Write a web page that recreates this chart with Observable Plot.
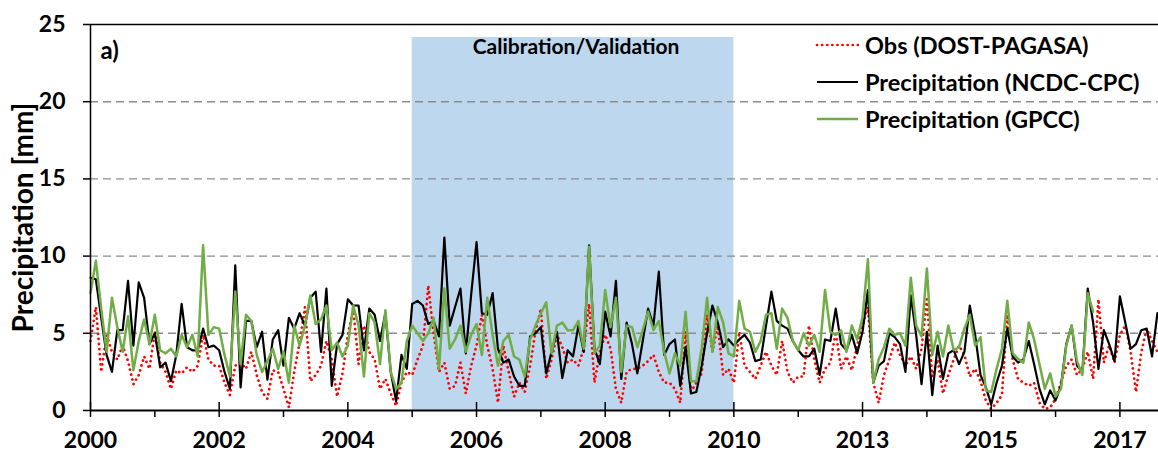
<!DOCTYPE html>
<html>
<head>
<meta charset="utf-8">
<script src="https://cdn.jsdelivr.net/npm/d3@7"></script>
<script src="https://cdn.jsdelivr.net/npm/@observablehq/plot@0.6"></script>
<style>
  body { margin: 0; background: #fff; }
  #chart { position: relative; width: 1158px; height: 454px; font-family: Lato, "Open Sans", sans-serif; }
  #legend { position: absolute; left: 815px; top: 26px; }
  .row { display: flex; align-items: center; height: 37px; font-size: 23.5px; font-weight: bold; color: #000; white-space: nowrap; }
  .row svg { margin-right: 5px; }
</style>
</head>
<body>
<div id="chart"><div id="legend"></div></div>
<script>
// ---- data (monthly precipitation, Jan 2000 onward) ----
const startYear = 2000;

const obsDOST = [
  4.5,6.7,2.5,4.9,3.8,3.3,4.2,3.2,1.7,2.3,
  3.5,2.7,5.1,3.1,2.5,1.4,2.6,2.4,2.8,2.5,
  2.9,4.9,3.3,2.9,2.9,1.8,1.0,2.9,3.1,2.7,
  3.8,2.3,1.2,0.75,2.6,2.5,1.4,0.2,2.5,4.4,
  6.7,1.9,2.3,2.9,4.5,3.3,0.9,2.4,4.9,6.6,
  3.0,5.5,3.8,3.3,1.4,2.05,1.1,0.3,1.8,2.5,
  2.3,3.3,4.2,8.1,5.0,2.5,3.1,1.4,1.6,3.1,
  1.1,2.9,4.2,6.2,4.2,2.7,0.5,4.2,2.5,0.9,
  1.8,1.2,2.9,5.1,6.6,2.05,3.3,4.9,4.1,3.1,
  3.3,2.9,4.0,6.9,1.8,3.8,4.9,4.0,1.4,0.5,
  2.5,2.7,2.7,2.9,3.2,3.6,2.5,1.8,1.8,1.4,
  0.5,5.1,1.2,1.8,2.4,6.2,3.8,5.5,2.3,2.7,
  1.8,5.1,2.9,2.5,2.05,2.9,3.8,2.9,2.3,4.5,
  2.5,1.8,2.2,2.2,5.5,3.3,1.8,2.7,3.1,5.1,
  2.7,3.5,2.6,4.2,5.5,6.7,1.8,0.5,2.3,3.3,
  4.4,3.6,2.9,3.5,2.7,4.0,7.2,2.2,3.3,1.1,
  2.3,3.3,4.2,3.6,2.2,2.7,1.9,0.65,0.1,0.5,
  1.0,6.2,3.3,2.05,1.8,1.6,1.8,0.5,0.1,0.2,
  0.75,1.8,2.9,3.3,2.3,2.7,3.8,2.05,7.2,3.1,
  4.2,3.1,4.9,5.5,3.8,1.2,3.8,5.3,4.5,3.8
];

const ncdcCPC = [
  8.6,8.5,6.0,3.6,2.5,5.2,5.2,8.4,4.2,8.3,
  7.3,4.3,5.0,2.8,3.1,1.9,3.6,6.9,4.1,3.9,
  3.9,5.3,4.1,4.2,3.9,2.5,1.4,9.4,1.5,5.8,
  5.8,4.1,5.1,2.0,4.6,5.2,2.9,6.0,5.3,6.3,
  5.5,7.3,7.7,3.8,7.9,1.6,4.3,4.9,7.2,6.8,
  6.8,3.9,6.6,6.2,4.5,6.3,2.5,0.6,3.6,2.7,
  6.9,7.1,6.8,5.6,5.8,4.8,11.2,5.5,6.7,7.9,
  3.7,7.5,10.9,6.3,6.2,7.6,4.0,3.1,3.3,2.2,
  1.6,1.6,4.8,5.0,5.4,2.4,3.8,5.1,2.1,3.9,
  3.5,5.5,3.8,10.7,4.0,3.0,6.4,4.8,8.4,2.05,
  5.7,4.3,2.4,4.5,6.6,5.5,9.0,3.6,4.3,4.6,
  1.6,4.1,1.1,1.2,2.9,5.0,6.8,5.7,4.1,4.6,
  4.2,4.6,4.9,4.4,3.2,3.3,5.5,7.7,5.8,5.5,
  5.3,4.5,3.9,3.5,3.5,4.0,2.3,4.6,4.5,6.6,
  4.3,3.9,4.9,3.7,5.1,7.8,1.8,2.9,3.2,5.0,
  4.75,4.3,2.5,7.45,4.9,1.7,5.1,1.0,4.2,2.05,
  3.7,3.9,3.0,3.8,6.8,4.9,2.3,1.5,0.4,1.8,
  2.9,5.3,3.5,3.1,3.3,4.5,3.0,1.4,0.4,1.3,
  0.65,1.6,4.3,5.5,2.9,2.5,7.9,5.7,2.7,5.2,
  4.3,3.2,7.4,5.7,4.0,4.3,5.2,5.3,3.5,6.3
];

const gpcc = [
  7.6,9.7,6.6,3.8,7.3,5.4,3.8,6.1,2.6,4.5,
  5.9,4.3,6.2,3.9,3.7,4.0,3.5,4.9,4.1,4.9,
  3.5,10.7,4.9,5.4,5.3,3.6,2.2,7.7,3.0,6.2,
  5.8,3.6,2.5,3.2,4.0,2.7,3.8,1.8,5.5,4.2,
  5.5,7.45,5.6,5.9,6.8,3.9,4.4,3.5,4.2,6.8,
  5.5,2.2,6.3,5.7,3.0,6.5,2.5,1.4,1.8,4.5,
  5.5,5.0,4.5,5.0,6.0,2.7,7.9,4.0,4.6,5.5,
  3.8,4.9,5.6,3.6,7.3,4.9,2.9,4.5,4.9,3.5,
  3.3,2.2,4.6,5.5,6.3,7.0,3.7,5.5,5.7,5.2,
  5.2,5.8,4.0,10.6,3.7,4.2,7.8,5.4,7.3,2.5,
  5.5,5.4,4.1,5.2,6.4,5.2,5.8,3.8,2.4,3.7,
  2.9,6.4,1.9,1.9,4.0,7.3,3.8,6.7,5.7,3.7,
  3.5,7.1,5.3,5.1,3.8,4.5,6.2,6.3,4.0,6.6,
  6.0,4.5,3.9,5.0,4.2,4.9,3.8,7.8,5.1,4.9,
  5.2,3.8,5.5,4.6,6.05,9.8,1.8,3.3,4.1,5.3,
  4.9,5.0,4.2,8.6,5.5,4.8,9.2,3.6,5.1,3.5,
  5.5,3.9,4.1,5.3,6.2,4.2,4.75,1.3,1.2,2.7,
  4.0,7.1,3.7,3.35,3.1,5.7,4.6,3.0,1.4,2.4,
  0.9,1.4,4.2,5.5,3.2,2.3,7.6,6.4
];

const tickYears  = [2000,2001,2002,2003,2004,2005,2006,2007,2008,2009,2010,2011,2012,2013,2014,2015,2016];
const tickLabels = ["2000","","2002","","2004","","2006","","2008","","2010","","2013","","2015","","2017"];
const yTicks = [0, 5, 10, 15, 20, 25];
const calibration = [2005, 2010];
const calibrationLabel = "Calibration/Validation";
const panelLabel = "a)";
const yLabel = "Precipitation [mm]";
const seriesNames = ["Obs (DOST-PAGASA)", "Precipitation (NCDC-CPC)", "Precipitation (GPCC)"];
const seriesColors = ["#ff0000", "#000000", "#70ad47"];

// ---- build rows ----
const toRows = (vals) => vals.map((v, i) => ({t: startYear + i / 12, v}));
const obsRows = toRows(obsDOST);
const ncdcRows = toRows(ncdcCPC);
const gpccRows = toRows(gpcc);
const labelMap = new Map(tickYears.map((y, i) => [y, tickLabels[i]]));
const majorYears = tickYears.filter((y, i) => tickLabels[i] !== "");
const yMax = yTicks[yTicks.length - 1];

const lineStyles = [
  {stroke: seriesColors[0], strokeWidth: 2.7, strokeDasharray: "0.1,5", strokeLinecap: "round"},
  {stroke: seriesColors[1], strokeWidth: 2.2},
  {stroke: seriesColors[2], strokeWidth: 2.5}
];

const chart = Plot.plot({
  width: 1158,
  height: 454,
  marginLeft: 90,
  marginRight: 0,
  marginTop: 24,
  marginBottom: 44,
  style: {fontFamily: "Lato, 'Open Sans', sans-serif", background: "#fff", color: "#000"},
  x: {domain: [2000, 2016.6]},
  y: {domain: [0, yMax]},
  marks: [
    Plot.rectY([calibration], {x1: d => d[0], x2: d => d[1], y1: 0, y2: yMax, insetTop: 13, fill: "#bdd7ee"}),
    Plot.ruleY(yTicks.slice(1, -1), {stroke: "#8c8c8c", strokeWidth: 1.4, strokeDasharray: "8,5"}),
    Plot.text([calibrationLabel], {text: d => d, x: (calibration[0] + calibration[1]) / 2, frameAnchor: "top", lineAnchor: "top", dy: 15, dx: 3, fontSize: 21, fontWeight: "bold", fill: "#000"}),
    Plot.line(obsRows, {x: "t", y: "v", ...lineStyles[0]}),
    Plot.line(ncdcRows, {x: "t", y: "v", ...lineStyles[1]}),
    Plot.line(gpccRows, {x: "t", y: "v", ...lineStyles[2]}),
    Plot.ruleY([yMax], {stroke: "#000", strokeWidth: 1.5}),
    Plot.ruleY([0], {stroke: "#000", strokeWidth: 1.8}),
    Plot.ruleX([tickYears[0]], {y1: 0, y2: yMax, stroke: "#000", strokeWidth: 1.5}),
    Plot.axisY({ticks: yTicks, tickSize: 7, tickPadding: 18, fontSize: 23, fontWeight: "bold", label: null, stroke: "#000", strokeWidth: 1.5}),
    Plot.axisX({ticks: tickYears, tickSize: 7, tickPadding: 14, tickFormat: d => labelMap.get(d), fontSize: 23, fontWeight: "bold", label: null, stroke: "#000", strokeWidth: 1.5}),
    Plot.tickX(majorYears, {x: d => d, insetTop: 378, stroke: "#000", strokeWidth: 1.5}),
    Plot.text([panelLabel], {text: d => d, frameAnchor: "top-left", lineAnchor: "top", dx: 10, dy: 17, textAnchor: "start", fontSize: 24, fontWeight: "bold", fill: "#000"}),
    Plot.text([yLabel], {text: d => d, frameAnchor: "left", textAnchor: "middle", lineAnchor: "middle", rotate: -90, dx: -66, fontSize: 28, fontWeight: "bold", fill: "#000"})
  ]
});

const holder = document.getElementById("chart");
holder.insertBefore(chart, holder.firstChild);

// ---- legend (inside plot area, top right) ----
const legend = document.getElementById("legend");
seriesNames.forEach((name, i) => {
  const row = document.createElement("div");
  row.className = "row";
  const s = lineStyles[i];
  row.innerHTML =
    `<svg width="45" height="10"><line x1="2" y1="5" x2="43" y2="5" stroke="${s.stroke}" stroke-width="${s.strokeWidth}"` +
    (s.strokeDasharray ? ` stroke-dasharray="${s.strokeDasharray}" stroke-linecap="round"` : "") +
    `/></svg><span>${name}</span>`;
  legend.appendChild(row);
});
</script>
</body>
</html>
